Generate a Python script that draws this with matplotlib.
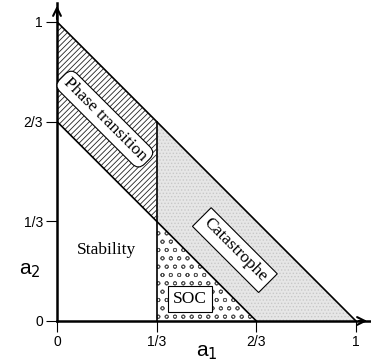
import matplotlib.pyplot as plt
import matplotlib
from matplotlib.patches import Polygon

matplotlib.rcParams['hatch.linewidth'] = 0.6

# region boundaries: a1 = 1/3, a1 + a2 = 2/3, a1 + a2 = 1
a1_split = 1 / 3
low_sum = 2 / 3
high_sum = 1.0

tick_vals = [0, 1 / 3, 2 / 3, 1]
tick_labels = ['0', '1/3', '2/3', '1']

region_labels = ['Stability', 'Phase transition', 'Catastrophe', 'SOC']

fig = plt.figure(figsize=(3.71, 3.64), dpi=100)
ax = fig.add_axes([57 / 371, 1 - 321 / 364, 313 / 371, 318 / 364])
ax.set_xlim(0, 1.047)
ax.set_ylim(0, 1.063)

s = a1_split
# stability (white)
stab = Polygon([(0, 0), (s, 0), (s, low_sum - s), (0, low_sum)],
               closed=True, facecolor='white', edgecolor='none')
ax.add_patch(stab)
# phase transition (hatched)
phase = Polygon([(0, low_sum), (0, high_sum), (s, high_sum - s), (s, low_sum - s)],
                closed=True, facecolor='white', edgecolor='#222222', hatch='//////',
                linewidth=0)
ax.add_patch(phase)
# catastrophe (light gray speckle)
cat = Polygon([(s, low_sum - s), (s, high_sum - s), (high_sum, 0), (low_sum, 0)],
              closed=True, facecolor='#e6e6e6', edgecolor='#c8c8c8', hatch='.....',
              linewidth=0)
ax.add_patch(cat)
# SOC (scale pattern)
soc = Polygon([(s, 0), (low_sum, 0), (s, low_sum - s)],
              closed=True, facecolor='white', edgecolor='#555555', hatch='oo',
              linewidth=0)
ax.add_patch(soc)

# boundary lines
ax.plot([0, high_sum], [high_sum, 0], color='black', lw=1.2)
ax.plot([0, low_sum], [low_sum, 0], color='black', lw=1.2)
ax.plot([s, s], [0, high_sum - s], color='black', lw=1.2)

# region labels
serif = 'Liberation Serif'
ax.text(0.167, 0.237, region_labels[0], fontsize=12.5, family=serif,
        ha='center', va='center')
ax.text(0.16, 0.675, region_labels[1], fontsize=12.5, family=serif,
        ha='center', va='center', rotation=-45, rotation_mode='anchor',
        bbox=dict(boxstyle='round,pad=0.25,rounding_size=0.5', fc='white', ec='black', lw=0.8))
ax.text(0.595, 0.237, region_labels[2], fontsize=12.5, family=serif,
        ha='center', va='center', rotation=-45, rotation_mode='anchor',
        bbox=dict(boxstyle='square,pad=0.3', fc='white', ec='black', lw=0.8))
ax.text(0.445, 0.073, region_labels[3], fontsize=12.5, family=serif,
        ha='center', va='center',
        bbox=dict(boxstyle='square,pad=0.3', fc='white', ec='black', lw=0.8))

# axes with arrows
for sp in ['top', 'right']:
    ax.spines[sp].set_visible(False)
ax.spines['left'].set_linewidth(1.8)
ax.spines['bottom'].set_linewidth(1.8)
ax.annotate('', xy=(1.047, 0), xytext=(1.0, 0),
            arrowprops=dict(arrowstyle='->', lw=1.5, color='black', mutation_scale=14),
            annotation_clip=False)
ax.annotate('', xy=(0, 1.063), xytext=(0, 1.0),
            arrowprops=dict(arrowstyle='->', lw=1.5, color='black', mutation_scale=14),
            annotation_clip=False)

ax.set_xticks(tick_vals)
ax.set_xticklabels(tick_labels, family='Liberation Sans', fontsize=10)
ax.set_yticks(tick_vals)
ax.set_yticklabels(tick_labels, family='Liberation Sans', fontsize=10)
ax.tick_params(direction='out', length=8, width=0.8, pad=2)

ax.set_xlabel('a$_1$', family='Liberation Sans', fontsize=15)
ax.set_ylabel('a$_2$', family='Liberation Sans', fontsize=15, rotation=0)
ax.xaxis.label.set_va('center')
ax.yaxis.label.set_va('center')
ax.yaxis.label.set_ha('center')
ax.yaxis.set_label_coords(-0.086, 0.16)
ax.xaxis.set_label_coords(0.479, -0.1)

plt.savefig('out.png', dpi=100, facecolor='white')
plt.close()
